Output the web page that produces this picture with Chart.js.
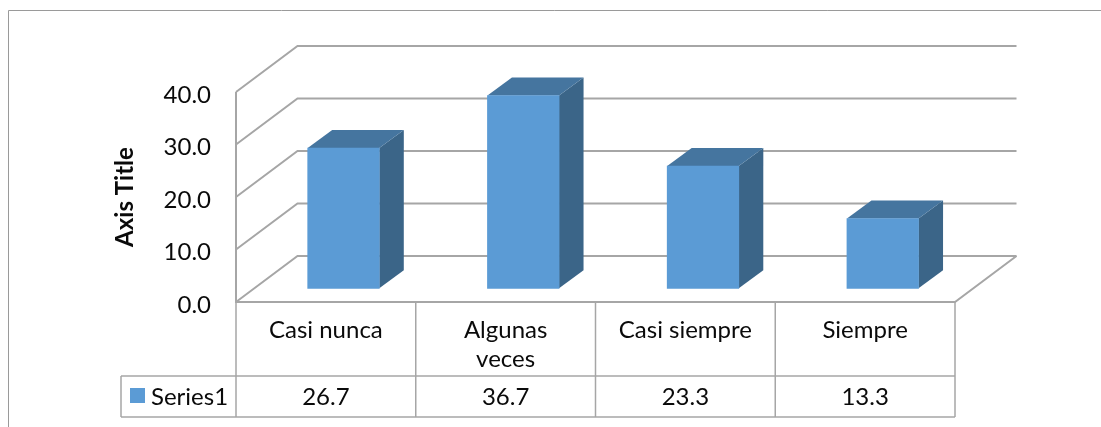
<!DOCTYPE html>
<html><head><meta charset="utf-8">
<style>html,body{margin:0;padding:0;background:#fff}canvas{display:block}</style>
<script src="https://cdn.jsdelivr.net/npm/chart.js@4"></script>
</head><body>
<canvas id="c" width="1101" height="427"></canvas>
<script>
const categories = ["Casi nunca", ["Algunas", "veces"], "Casi siempre", "Siempre"];
const seriesName = "Series1";
const seriesValues = [26.7, 36.7, 23.3, 13.3];
const yTicks = [0, 10, 20, 30, 40];

const FONT = "Lato, Carlito, sans-serif";
const INK = "#0a0a0a";
const LINE = "#a6a6a6";
const BACK = {dx: 61.5, dy: -46};      // floor/wall depth
const FACE = {dx: 24.5, dy: -18};      // bar depth

const threeD = {
  id: "threeD",
  beforeDatasetsDraw(chart) {
    const {ctx, chartArea: a, scales: {y, x}} = chart;
    ctx.save();
    // outer chart frame
    ctx.strokeStyle = "#9a9a9a"; ctx.lineWidth = 1;
    ctx.beginPath(); ctx.moveTo(8.5, 427); ctx.lineTo(8.5, 10.5); ctx.lineTo(1101, 10.5); ctx.stroke();
    // walls
    ctx.strokeStyle = LINE; ctx.lineWidth = 2;
    yTicks.forEach(v => {
      const p = y.getPixelForValue(v);
      ctx.beginPath(); ctx.moveTo(a.left, p); ctx.lineTo(a.left + BACK.dx, p + BACK.dy); ctx.lineTo(a.right + BACK.dx, p + BACK.dy); ctx.stroke();
    });
    ctx.beginPath(); ctx.moveTo(a.left, a.top); ctx.lineTo(a.left, a.bottom); ctx.lineTo(a.right, a.bottom); ctx.lineTo(a.right + BACK.dx, a.bottom + BACK.dy); ctx.stroke();
    // data table
    const rowY = 376, endY = 417, legL = 121;
    ctx.lineWidth = 1.5;
    ctx.beginPath();
    categories.forEach((_, i) => {
      const lx = a.left + (a.right - a.left) * i / categories.length;
      ctx.moveTo(lx, a.bottom); ctx.lineTo(lx, endY);
    });
    ctx.moveTo(a.right, a.bottom); ctx.lineTo(a.right, endY);
    ctx.moveTo(legL, rowY); ctx.lineTo(a.right, rowY);
    ctx.moveTo(legL, endY); ctx.lineTo(a.right, endY);
    ctx.moveTo(legL, rowY); ctx.lineTo(legL, endY);
    ctx.stroke();
    ctx.fillStyle = "#5b9bd5"; ctx.fillRect(130, 388, 15, 15);
    ctx.fillStyle = INK; ctx.font = "24px " + FONT; ctx.textBaseline = "middle";
    ctx.textAlign = "left"; ctx.fillText(seriesName, 151, 397);
    ctx.textAlign = "center";
    seriesValues.forEach((v, i) => ctx.fillText(v.toFixed(1), x.getPixelForValue(i), 397));
    // bar side and top faces
    chart.getDatasetMeta(0).data.forEach(el => {
      const l = el.x - el.width / 2, r = el.x + el.width / 2, t = el.y, b = el.base;
      ctx.fillStyle = "#3b6588";
      ctx.beginPath(); ctx.moveTo(r, t); ctx.lineTo(r + FACE.dx, t + FACE.dy); ctx.lineTo(r + FACE.dx, b + FACE.dy); ctx.lineTo(r, b); ctx.closePath(); ctx.fill();
      ctx.fillStyle = "#45759f";
      ctx.beginPath(); ctx.moveTo(l, t); ctx.lineTo(l + FACE.dx, t + FACE.dy); ctx.lineTo(r + FACE.dx, t + FACE.dy); ctx.lineTo(r, t); ctx.closePath(); ctx.fill();
    });
    ctx.restore();
  }
};

new Chart(document.getElementById("c"), {
  type: "bar",
  data: {
    labels: categories,
    datasets: [{
      label: seriesName,
      data: seriesValues.map((v, i) => ({x: i, y: v})),
      xAxisID: "xBars", yAxisID: "yBars",
      backgroundColor: "#5b9bd5", borderWidth: 0, barThickness: 71.6
    }]
  },
  plugins: [threeD],
  options: {
    responsive: false, animation: false,
    layout: {padding: {left: 110.6, right: 146, top: 92, bottom: 0}},
    plugins: {legend: {display: false}, tooltip: {enabled: false}},
    scales: {
      x: {
        type: "category", offset: true, position: "bottom",
        grid: {display: false, drawTicks: false}, border: {display: false},
        ticks: {autoSkip: false, maxRotation: 0, minRotation: 0, padding: 14, color: INK, font: {family: FONT, size: 24, lineHeight: 1.2}},
        afterFit(s) { s.height = 125; }
      },
      y: {
        type: "linear", position: "left", min: 0, max: 40,
        grid: {display: false, drawTicks: false}, border: {display: false},
        ticks: {stepSize: 10, padding: 25, labelOffset: 3, color: INK, font: {family: FONT, size: 24}, callback: v => v.toFixed(1)},
        title: {display: true, text: "Axis Title", color: INK, padding: 0, font: {family: FONT, size: 24, weight: "bold", lineHeight: 1.2}},
        afterFit(s) { s.width = 125.4; }
      },
      xBars: {type: "linear", axis: "x", offset: false, display: false, min: -0.598, max: 3.402},
      yBars: {type: "linear", axis: "y", display: false, min: -2.61, max: 37.39}
    }
  }
});
</script>
</body></html>
